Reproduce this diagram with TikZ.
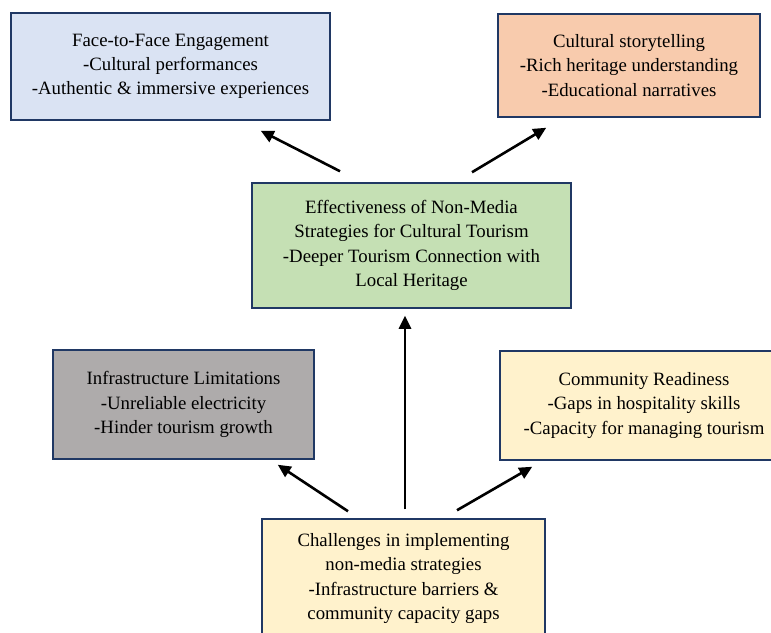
\documentclass[tikz,border=0pt]{standalone}
\usepackage{fontspec}
\setmainfont{Liberation Serif}
\usetikzlibrary{arrows.meta,calc}

\definecolor{boxline}{HTML}{203864}
\definecolor{faceblue}{HTML}{DAE3F3}
\definecolor{storyorange}{HTML}{F8CBAD}
\definecolor{effgreen}{HTML}{C5E0B4}
\definecolor{infragray}{HTML}{AEABAB}
\definecolor{readyellow}{HTML}{FFF2CC}

\tikzset{
  infobox/.style={draw=boxline, line width=1.5pt, inner sep=0pt, align=center,
    font=\fontsize{18.8}{24.2}\selectfont},
  bigarrow/.style={line width=2.6pt, -{Triangle[length=13pt,width=12pt]}},
}

\begin{document}
\begin{tikzpicture}[x=1pt, y=-1pt]
    \useasboundingbox (0,0) rectangle (771,632);
    \clip (0,0) rectangle (771,632);

    \node [infobox, fill=faceblue, minimum width=319pt, minimum height=107pt]
      (face) at (170.5,66.5) {Face-to-Face Engagement\\-Cultural performances\\-Authentic \& immersive experiences};
    \node [infobox, fill=storyorange, minimum width=262pt, minimum height=103pt]
      (story) at (629,65.5) {Cultural storytelling\\-Rich heritage understanding\\-Educational narratives};
    \node [infobox, fill=effgreen, minimum width=319pt, minimum height=125pt]
      (eff) at (411.5,245.5) {Effectiveness of Non-Media\\Strategies for Cultural Tourism\\-Deeper Tourism Connection with\\Local Heritage};
    \node [infobox, fill=infragray, minimum width=261pt, minimum height=109pt]
      (infra) at (183.5,404.5) {Infrastructure Limitations\\-Unreliable electricity\\-Hinder tourism growth};
    \node [infobox, fill=readyellow, minimum width=288pt, minimum height=109pt]
      (ready) at (644,405.5) {Community Readiness\\-Gaps in hospitality skills\\-Capacity for managing tourism};
    \node [infobox, fill=readyellow, minimum width=283pt, minimum height=119pt]
      (chall) at (403.5,578.5) {Challenges in implementing\\non-media strategies\\-Infrastructure barriers \&\\community capacity gaps};

    \coordinate (facetail) at ($(eff.north)+(-71.5,-11)$);
    \coordinate (facehead) at ($(face.south east)+(-70,10)$);
    \coordinate (storytail) at ($(eff.north)+(60.5,-10)$);
    \coordinate (storyhead) at ($(story.south west)+(49,10)$);
    \coordinate (efftail) at ($(chall.north)+(1.5,-9)$);
    \coordinate (infratail) at ($(chall.north)+(-55.5,-7)$);
    \coordinate (infrahead) at ($(infra.south east)+(-37,5)$);
    \coordinate (readytail) at ($(chall.north)+(53.5,-8)$);
    \coordinate (readyhead) at ($(ready.south west)+(33,6)$);

    \draw [bigarrow] (facetail) -- (facehead);
    \draw [bigarrow] (storytail) -- (storyhead);
    \draw [bigarrow] (efftail) -- ($(eff.south)+(-6.5,7)$);
    \draw [bigarrow] (infratail) -- (infrahead);
    \draw [bigarrow] (readytail) -- (readyhead);
\end{tikzpicture}
\end{document}
